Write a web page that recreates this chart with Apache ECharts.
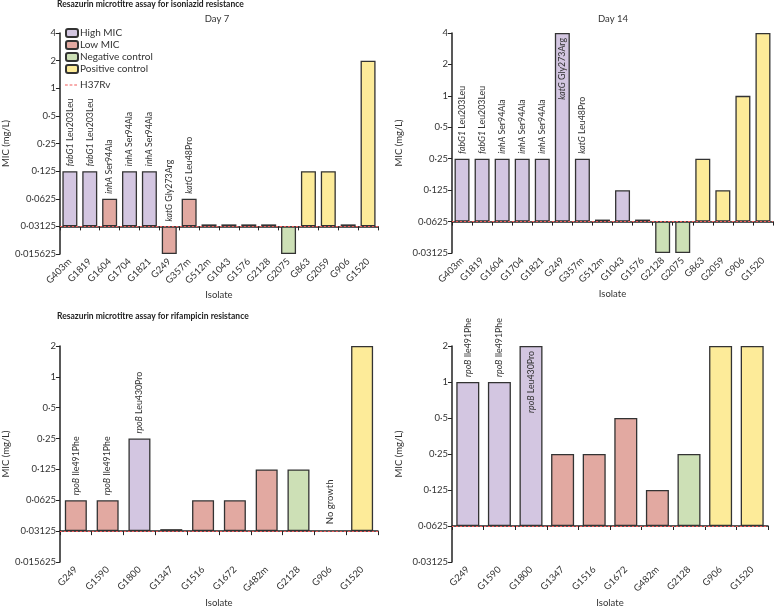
<!DOCTYPE html>
<html><head><meta charset="utf-8">
<script src="https://cdn.jsdelivr.net/npm/echarts@6/dist/echarts.min.js"></script>
<style>html,body{margin:0;padding:0;background:#fff}#c{width:775px;height:609px}</style>
</head><body><div id="c"></div>
<script>
// ---------- data ----------
const isoCategories = ['G403m','G1819','G1604','G1704','G1821','G249','G357m','G512m','G1043','G1576','G2128','G2075','G863','G2059','G906','G1520'];
const isoDay7Values = [0.125,0.125,0.0625,0.125,0.125,0.015625,0.0625,0.03125,0.03125,0.03125,0.03125,0.015625,0.125,0.125,0.03125,2];
const isoDay7Groups = ['High','High','Low','High','High','Low','Low','Low','Low','Low','Low','Neg','Pos','Pos','Pos','Pos'];
const isoDay7Labels = ['fabG1 Leu203Leu','fabG1 Leu203Leu','inhA Ser94Ala','inhA Ser94Ala','inhA Ser94Ala','katG Gly273Arg','katG Leu48Pro','','','','','','','','',''];
const isoDay7Ticks = [0.015625,0.03125,0.0625,0.125,0.25,0.5,1,2,4];
const isoDay7Cutoff = 0.03125;

const isoDay14Values = [0.25,0.25,0.25,0.25,0.25,4,0.25,0.0625,0.125,0.0625,0.03125,0.03125,0.25,0.125,1,4];
const isoDay14Groups = ['High','High','High','High','High','High','High','High','High','High','Neg','Neg','Pos','Pos','Pos','Pos'];
const isoDay14Labels = isoDay7Labels;
const isoDay14Inside = [5];
const isoDay14Ticks = [0.03125,0.0625,0.125,0.25,0.5,1,2,4];
const isoDay14Cutoff = 0.0625;

const rifCategories = ['G249','G1590','G1800','G1347','G1516','G1672','G482m','G2128','G906','G1520'];
const rifDay7Values = [0.0625,0.0625,0.25,0.03125,0.0625,0.0625,0.125,0.125,null,2];
const rifDay7Groups = ['Low','Low','High','Low','Low','Low','Low','Neg','Pos','Pos'];
const rifDay7Labels = ['rpoB Ile491Phe','rpoB Ile491Phe','rpoB Leu430Pro','','','','','','',''];
const rifDay7NoGrowth = [8];
const rifDay7Ticks = [0.015625,0.03125,0.0625,0.125,0.25,0.5,1,2];
const rifDay7Cutoff = 0.03125;

const rifDay14Values = [1,1,2,0.25,0.25,0.5,0.125,0.25,2,2];
const rifDay14Groups = ['High','High','High','Low','Low','Low','Low','Neg','Pos','Pos'];
const rifDay14Labels = rifDay7Labels;
const rifDay14Inside = [2];
const rifDay14Ticks = [0.03125,0.0625,0.125,0.25,0.5,1,2];
const rifDay14Cutoff = 0.0625;

const groupNames = {High:'High MIC', Low:'Low MIC', Neg:'Negative control', Pos:'Positive control'};
const groupColors = {High:'#d3c6e1', Low:'#e2a9a1', Neg:'#cde0b6', Pos:'#fdeb99'};

// ---------- build ----------
const FONT = 'Lato, "Open Sans", sans-serif';
const TXT = '#333';
const FS = 9.5;   // axis text
const LFS = 8.8;  // bar annotation text
function fmt(v){ return String(v).replace('.', '\u00b7'); }

const panels = [
  {cats: isoCategories, vals: isoDay7Values, groups: isoDay7Groups, labels: isoDay7Labels, inside: [], noGrowth: [], ticks: isoDay7Ticks, cutoff: isoDay7Cutoff,
   grid:{left:57, top:33, width:321, height:221}, barW:15},
  {cats: isoCategories, vals: isoDay14Values, groups: isoDay14Groups, labels: isoDay14Labels, inside: isoDay14Inside, noGrowth: [], ticks: isoDay14Ticks, cutoff: isoDay14Cutoff,
   grid:{left:452, top:33, width:321, height:220}, barW:15},
  {cats: rifCategories, vals: rifDay7Values, groups: rifDay7Groups, labels: rifDay7Labels, inside: [], noGrowth: rifDay7NoGrowth, ticks: rifDay7Ticks, cutoff: rifDay7Cutoff,
   grid:{left:56, top:346, width:322, height:220}, barW:22},
  {cats: rifCategories, vals: rifDay14Values, groups: rifDay14Groups, labels: rifDay14Labels, inside: rifDay14Inside, noGrowth: [], ticks: rifDay14Ticks, cutoff: rifDay14Cutoff,
   grid:{left:452, top:346, width:316, height:220}, barW:23}
];

const grids = [], xAxes = [], yAxes = [], series = [];
panels.forEach((p, pi) => {
  grids.push(Object.assign({containLabel:false}, p.grid));
  xAxes.push({
    type:'category', gridIndex:pi, data:p.cats,
    name:'Isolate', nameLocation:'middle', nameGap:36,
    nameTextStyle:{fontFamily:FONT, fontSize:FS, color:TXT},
    axisLine:{lineStyle:{color:'#222', width:1.5}},
    axisTick:{show:true, alignWithLabel:false, length:4, lineStyle:{color:'#222'}},
    axisLabel:{rotate:45, fontFamily:FONT, fontSize:FS, color:TXT, margin:6, interval:0}
  });
  const lo = Math.log2(p.ticks[0] / p.cutoff), hi = Math.log2(p.ticks[p.ticks.length-1] / p.cutoff);
  yAxes.push({
    type:'value', gridIndex:pi, min:lo, max:hi, interval:1,
    name:'MIC (mg/L)', nameLocation:'middle', nameGap: pi % 2 === 0 ? 47 : 48,
    nameTextStyle:{fontFamily:FONT, fontSize:FS, color:TXT},
    axisLine:{show:true, lineStyle:{color:'#222', width:1.5}},
    axisTick:{show:true, length:4, lineStyle:{color:'#222'}},
    splitLine:{show:false},
    axisLabel:{fontFamily:FONT, fontSize:FS, color:TXT, margin:4,
      formatter: v => fmt(p.ticks[Math.round(v - lo)])}
  });
  ['High','Low','Neg','Pos'].forEach((g, gi) => {
    const data = p.cats.map((c, i) => {
      const isNG = p.noGrowth.includes(i);
      if (isNG && g === p.groups[i]) {
        return {value:0, itemStyle:{color:'rgba(0,0,0,0)', borderWidth:0},
          label:{show:true, position:'top', rotate:90, align:'left', verticalAlign:'middle', distance:5,
                 formatter:'No growth', fontFamily:FONT, fontSize:FS, color:TXT}};
      }
      if (p.groups[i] !== g || p.vals[i] == null) return '-';
      const y = Math.log2(p.vals[i] / p.cutoff);
      const item = {value:y};
      const lab = p.labels[i];
      if (lab) {
        const sp = lab.indexOf(' ');
        const txt = '{i|' + lab.slice(0, sp) + '}' + lab.slice(sp);
        const inside = p.inside.includes(i);
        item.label = {show:true, rotate:90, formatter:txt,
          position: inside ? 'insideTop' : 'top',
          align: inside ? 'right' : 'left', verticalAlign:'middle',
          distance: 5,
          fontFamily:FONT, fontSize:LFS, color:TXT,
          rich:{i:{fontStyle:'italic', fontFamily:FONT, fontSize:LFS, color:TXT}}};
      }
      return item;
    });
    series.push({
      type:'bar', name:groupNames[g], xAxisIndex:pi, yAxisIndex:pi,
      data, barWidth:p.barW, barGap:'-100%', barMinHeight:2,
      itemStyle:{color:groupColors[g], borderColor:'#333', borderWidth:1.3},
      emphasis:{disabled:true}, animation:false
    });
  });
  series.push({
    type:'line', name:'H37Rv', xAxisIndex:pi, yAxisIndex:pi, data:[], symbol:'none',
    lineStyle:{color:'#f25a5a', type:[2,2], width:1.2}, itemStyle:{color:'#f25a5a'},
    markLine:{silent:true, symbol:['none','none'], label:{show:false},
      lineStyle:{color:'#f25a5a', type:[2,2], width:1.2},
      data:[{yAxis:0}]},
    animation:false, z:5
  });
});

const option = {
  animation:false,
  textStyle:{fontFamily:FONT},
  title:[
    {text:'Resazurin microtitre assay for isoniazid resistance', left:57, top:0, padding:0, textStyle:{fontFamily:FONT, fontSize:8.5, fontWeight:'bold', color:'#222'}},
    {text:'Day 7', left:217, top:14, padding:0, textAlign:'center', textStyle:{fontFamily:FONT, fontSize:FS, fontWeight:'normal', color:TXT}},
    {text:'Day 14', left:613, top:14, padding:0, textAlign:'center', textStyle:{fontFamily:FONT, fontSize:FS, fontWeight:'normal', color:TXT}},
    {text:'Resazurin microtitre assay for rifampicin resistance', left:57, top:312, padding:0, textStyle:{fontFamily:FONT, fontSize:8.5, fontWeight:'bold', color:'#222'}}
  ],
  legend:[
    {data:['High MIC','Low MIC','Negative control','Positive control'], orient:'vertical', left:65, top:27, padding:0,
     itemWidth:12, itemHeight:8, itemGap:0, selectedMode:false,
     textStyle:{fontFamily:FONT, fontSize:FS+0.5, color:TXT, lineHeight:12, padding:[0,0,0,-3]}},
    {data:[{name:'H37Rv', icon:'path://M0,0h3v1h-3zM5,0h3v1h-3zM10,0h3v1h-3z'}], orient:'vertical', left:65, top:79, padding:0,
     itemWidth:12, itemHeight:1.2, selectedMode:false,
     textStyle:{fontFamily:FONT, fontSize:FS+0.5, color:TXT, lineHeight:12, padding:[0,0,0,-2]}}
  ],
  grid:grids, xAxis:xAxes, yAxis:yAxes, series
};
const chart = echarts.init(document.getElementById('c'), null, {renderer:'canvas'});
chart.setOption(option);
</script></body></html>
